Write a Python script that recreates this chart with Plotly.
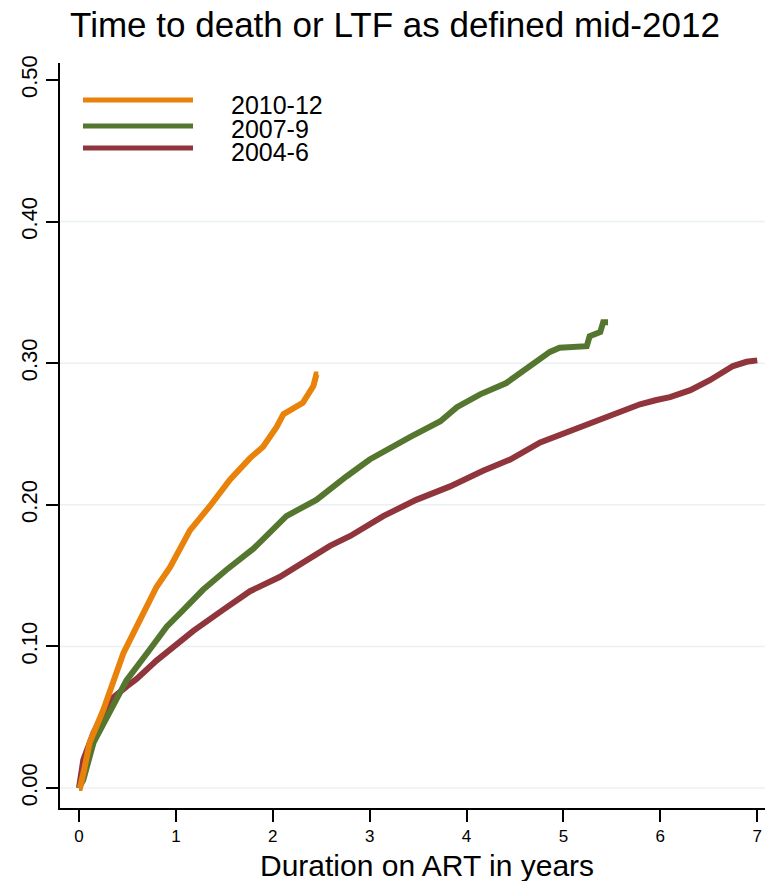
import plotly.graph_objects as go

# Cumulative probability of death or LTF by duration on ART, per ART-start cohort
t_2010_12 = [0, 0.01, 0.05, 0.11, 0.25, 0.354, 0.457, 0.595, 0.80, 0.94, 1.145, 1.35,
             1.56, 1.765, 1.90, 2.04, 2.11, 2.31, 2.37, 2.42, 2.45, 2.47]
p_2010_12 = [0, 0.0, 0.012, 0.032, 0.055, 0.075, 0.095, 0.114, 0.142, 0.156, 0.182, 0.199,
             0.218, 0.233, 0.241, 0.255, 0.264, 0.272, 0.278, 0.284, 0.292, 0.292]

t_2007_9 = [0, 0.045, 0.15, 0.32, 0.49, 0.70, 0.905, 1.08, 1.28, 1.52, 1.80, 2.14, 2.45,
            2.76, 3.0, 3.42, 3.73, 3.90, 4.14, 4.41, 4.59, 4.86, 4.96, 5.24, 5.27, 5.38,
            5.41, 5.46]
p_2007_9 = [0, 0.006, 0.032, 0.055, 0.076, 0.095, 0.114, 0.126, 0.140, 0.154, 0.169, 0.192,
            0.2035, 0.220, 0.232, 0.248, 0.259, 0.269, 0.278, 0.286, 0.295, 0.308, 0.311,
            0.312, 0.319, 0.322, 0.329, 0.329]

t_2004_6 = [0, 0.045, 0.15, 0.32, 0.49, 0.595, 0.80, 1.18, 1.49, 1.765, 2.07, 2.31, 2.59,
            2.80, 3.14, 3.48, 3.83, 4.17, 4.45, 4.76, 5.10, 5.45, 5.79, 5.96, 6.10, 6.31,
            6.51, 6.75, 6.89, 7.0]
p_2004_6 = [0, 0.02, 0.039, 0.062, 0.0716, 0.077, 0.090, 0.111, 0.126, 0.139, 0.149, 0.159,
            0.171, 0.178, 0.192, 0.2035, 0.213, 0.224, 0.232, 0.244, 0.253, 0.262, 0.271,
            0.274, 0.276, 0.281, 0.288, 0.298, 0.301, 0.302]

cohorts = ["2010-12", "2007-9", "2004-6"]
colors = {"2010-12": "#E8820A", "2007-9": "#55762F", "2004-6": "#90353B"}
series = {"2010-12": (t_2010_12, p_2010_12),
          "2007-9": (t_2007_9, p_2007_9),
          "2004-6": (t_2004_6, p_2004_6)}

x_ticks = [0, 1, 2, 3, 4, 5, 6, 7]
y_ticks = [0.0, 0.1, 0.2, 0.3, 0.4, 0.5]
y_tick_text = ["0.00", "0.10", "0.20", "0.30", "0.40", "0.50"]

FONT = "Liberation Sans, Arial, Helvetica, sans-serif"
W, H = 765, 881
L, R, T, B = 60, 0, 63, 73
PW, PH = W - L - R, H - T - B


def px_x(p):
    return (p - L) / PW


def px_y(p):
    return (H - B - p) / PH


fig = go.Figure()

# oldest cohort drawn first so the recent one sits on top
for name in reversed(cohorts):
    tx, py = series[name]
    fig.add_trace(go.Scatter(
        x=tx, y=py, mode="lines", name=name, showlegend=False,
        line=dict(color=colors[name], width=6),
    ))

shapes = []
# horizontal grid lines
for v in y_ticks[:-1]:
    shapes.append(dict(type="line", xref="paper", yref="y", x0=0, x1=1, y0=v, y1=v,
                       line=dict(color="#EAF1F3", width=1.5), layer="below"))

annotations = []
# legend: sample lines and labels
leg_line_y = [100, 126, 148]
leg_text_y = [105, 129, 152]
for name, ly, ty in zip(cohorts, leg_line_y, leg_text_y):
    shapes.append(dict(type="line", xref="paper", yref="paper",
                       x0=px_x(83), x1=px_x(193), y0=px_y(ly), y1=px_y(ly),
                       line=dict(color=colors[name], width=5)))
    annotations.append(dict(xref="paper", yref="paper", x=px_x(229), y=px_y(ty),
                            text=name, showarrow=False, xanchor="left", yanchor="middle",
                            font=dict(family=FONT, size=25, color="black")))

# x-axis title
annotations.append(dict(xref="paper", yref="paper", x=px_x(427), y=px_y(865),
                        text="Duration on ART in years", showarrow=False,
                        xanchor="center", yanchor="middle",
                        font=dict(family=FONT, size=30, color="black")))

fig.update_layout(
    width=W, height=H,
    margin=dict(l=L, r=R, t=T, b=B, pad=0),
    paper_bgcolor="white", plot_bgcolor="white",
    title=dict(text="Time to death or LTF as defined mid-2012",
               x=395 / W, xref="container", xanchor="center",
               y=1 - 25 / H, yref="container", yanchor="middle",
               font=dict(family=FONT, size=35, color="black")),
    shapes=shapes, annotations=annotations,
    showlegend=False,
)

fig.update_xaxes(
    range=[-0.196, 7.08], tickvals=x_ticks, ticktext=[str(v) for v in x_ticks],
    showgrid=False, zeroline=False, showline=True, linecolor="black", linewidth=1.5,
    ticks="outside", ticklen=12, tickwidth=1.5, tickcolor="black",
    tickfont=dict(family=FONT, size=17, color="black"),
)
fig.update_yaxes(
    range=[-0.0141, 0.512], tickvals=y_ticks, ticktext=y_tick_text, tickangle=-90,
    showgrid=False, zeroline=False, showline=True, linecolor="black", linewidth=1.5,
    ticks="outside", ticklen=12, tickwidth=1.5, tickcolor="black",
    tickfont=dict(family=FONT, size=22, color="black"),
)

fig.write_html("out.html")
